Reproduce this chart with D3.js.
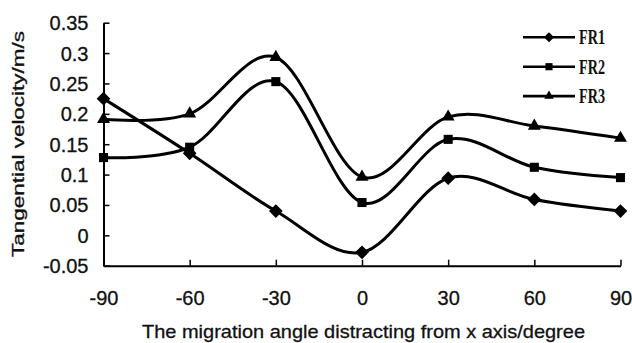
<!DOCTYPE html>
<html>
<head>
<meta charset="utf-8">
<script src="https://cdn.jsdelivr.net/npm/d3@7"></script>
<style>
body { margin: 0; background: #fff; }
text { font-family: "Liberation Sans", Arial, sans-serif; fill: #111; }
</style>
</head>
<body>
<script>

var width = 632
var height = 343

// data
var angles = [-90, -60, -30, 0, 30, 60, 90];
var fr1 = [0.225, 0.135, 0.040, -0.028, 0.094, 0.059, 0.040];
var fr2 = [0.128, 0.145, 0.253, 0.054, 0.158, 0.112, 0.095];
var fr3 = [0.191, 0.200, 0.293, 0.096, 0.195, 0.180, 0.160];
var seriesNames = ["FR1", "FR2", "FR3"];
var yTicks = [-0.05, 0, 0.05, 0.1, 0.15, 0.2, 0.25, 0.3, 0.35];

var series = [
	{name: seriesNames[0], values: fr1, shape: d3.symbolDiamond2, size: 120},
	{name: seriesNames[1], values: fr2, shape: d3.symbolSquare2, size: 105},
	{name: seriesNames[2], values: fr3, shape: d3.symbolTriangle2, size: 120}
];

var svg = d3.select("body")
	.append("svg")
		.attr("width", width)
		.attr("height", height);

var x = d3.scaleLinear()
	.domain([-90, 90])
	.range([103.5, 620.5]);

var y = d3.scaleLinear()
	.domain([-0.05, 0.35])
	.range([265.7, 22.7]);

// plain hyphen instead of the unicode minus
var fmt = (d) => { return String(+d.toFixed(2)).replace("\u2212", "-"); };

// y axis, ticks pointing inward
var leftAxis = d3.axisRight(y)
	.tickValues(yTicks)
	.tickSize(6)
	.tickSizeOuter(0)
	.tickFormat(fmt);

var gy = svg.append("g")
	.attr("class", "left axis")
	.attr("transform", "translate(" + x(-90) + ",0)")
	.call(leftAxis);
gy.selectAll(".tick text")
	.attr("x", -15)
	.attr("dy", "0.35em")
	.attr("text-anchor", "end");

// x axis, ticks pointing up
var bottomAxis = d3.axisTop(x)
	.tickValues(angles)
	.tickSize(6)
	.tickSizeOuter(0)
	.tickFormat(fmt);

var gx = svg.append("g")
	.attr("class", "x axis")
	.attr("transform", "translate(0," + y(-0.05) + ")")
	.call(bottomAxis);
gx.selectAll(".tick text")
	.attr("y", 39)
	.attr("dy", 0)
	.attr("text-anchor", "middle");

svg.selectAll(".axis .domain")
	.attr("stroke", "#000")
	.attr("stroke-width", 2);
svg.selectAll(".axis .tick line")
	.attr("stroke", "#000")
	.attr("stroke-width", 1.5);
svg.selectAll(".axis text")
	.attr("font-size", "20px")
	.style("fill", "#111")
	.style("stroke", "#111")
	.style("stroke-width", "0.3px")
	.style("font-family", "'Liberation Sans', Arial, sans-serif");

// axis titles
svg.append("text")
	.attr("transform", "translate(24,257) rotate(-90)")
	.attr("font-size", "17px")
	.attr("textLength", 226)
	.attr("lengthAdjust", "spacingAndGlyphs")
	.style("stroke", "#111")
	.style("stroke-width", "0.3px")
	.text("Tangential velocity/m/s");

svg.append("text")
	.attr("x", 142)
	.attr("y", 338)
	.attr("font-size", "19px")
	.attr("textLength", 443)
	.attr("lengthAdjust", "spacingAndGlyphs")
	.style("stroke", "#111")
	.style("stroke-width", "0.3px")
	.text("The migration angle distracting from x axis/degree");

// lines
var line = d3.line()
	.x((d, i) => { return x(angles[i]); })
	.y((d) => { return y(d); })
	.curve(d3.curveCardinal.tension(0));

series.forEach((s) => {
	svg.append("path")
		.attr("d", line(s.values))
		.attr("fill", "none")
		.attr("stroke", "#000")
		.attr("stroke-width", 3);

	svg.selectAll(null).data(s.values)
		.enter()
		.append("path")
		.attr("transform", (d, i) => { return "translate(" + x(angles[i]) + "," + y(d) + ")"; })
		.attr("d", d3.symbol().type(s.shape).size(s.size))
		.attr("fill", "#000");
});

// legend
var legend = svg.append("g").attr("class", "legend");
series.forEach((s, i) => {
	var ly = 37.3 + i * 29.4;
	legend.append("line")
		.attr("x1", 523).attr("x2", 575)
		.attr("y1", ly).attr("y2", ly)
		.attr("stroke", "#000")
		.attr("stroke-width", 2.6);
	legend.append("path")
		.attr("transform", "translate(549," + ly + ")")
		.attr("d", d3.symbol().type(s.shape).size(65))
		.attr("fill", "#000");
	legend.append("text")
		.attr("x", 579)
		.attr("y", ly + 6.8)
		.attr("font-size", "20px")
		.attr("font-weight", "bold")
		.style("font-family", "'Liberation Serif', 'Times New Roman', serif")
		.attr("textLength", 26)
		.attr("lengthAdjust", "spacingAndGlyphs")
		.text(s.name);
});

</script>
</body>
</html>
